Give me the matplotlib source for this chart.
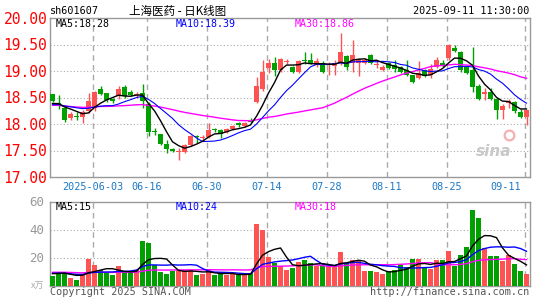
import numpy as np
import pandas as pd
import matplotlib
matplotlib.use("Agg")
import matplotlib.pyplot as plt

# daily bars, 2025-05-22 .. 2025-09-11 (80 trading days)
opens = [18.56, 18.40, 18.30, 18.12, 18.16, 18.13, 18.25, 18.30, 18.66, 18.58,
         18.47, 18.52, 18.70, 18.61, 18.54, 18.58, 18.38, 17.87, 17.81, 17.62,
         17.53, 17.47, 17.48, 17.61, 17.77, 17.74, 17.76, 17.91, 17.88, 17.85,
         17.90, 18.01, 17.97, 18.06, 18.42, 18.66, 19.05, 19.16, 19.01, 19.17,
         19.07, 18.99, 19.20, 19.21, 19.11, 19.16, 19.12, 19.10, 19.15, 19.28,
         19.15, 19.15, 19.16, 19.30, 19.12, 19.02, 19.15, 19.11, 19.07, 19.01,
         18.92, 18.86, 19.02, 18.92, 19.08, 19.16, 19.24, 19.43, 19.36, 19.08,
         19.02, 18.72, 18.57, 18.61, 18.48, 18.26, 18.39, 18.42, 18.23, 18.13]
highs = [18.57, 18.55, 18.32, 18.22, 18.22, 18.27, 18.59, 18.62, 18.72, 18.59,
         18.50, 18.72, 18.73, 18.64, 18.60, 18.76, 18.42, 17.93, 17.82, 17.70,
         17.55, 17.54, 17.62, 17.79, 17.79, 17.80, 18.01, 17.93, 17.90, 17.92,
         17.98, 18.03, 18.04, 18.11, 18.89, 19.21, 19.22, 19.26, 19.25, 19.22,
         19.10, 19.20, 19.35, 19.34, 19.25, 19.18, 19.17, 19.20, 19.71, 19.31,
         19.58, 19.25, 19.24, 19.33, 19.20, 19.11, 19.17, 19.20, 19.09, 19.20,
         18.93, 19.18, 19.04, 19.13, 19.27, 19.21, 19.51, 19.49, 19.37, 19.10,
         19.46, 18.75, 18.68, 18.68, 18.49, 18.37, 18.48, 18.44, 18.28, 18.27]
lows = [18.42, 18.28, 18.04, 18.08, 18.07, 18.02, 18.20, 18.24, 18.55, 18.42,
        18.40, 18.48, 18.50, 18.52, 18.50, 18.30, 17.77, 17.79, 17.60, 17.46,
        17.47, 17.32, 17.46, 17.59, 17.64, 17.70, 17.74, 17.85, 17.73, 17.83,
        17.88, 17.95, 17.95, 18.01, 18.40, 18.62, 18.96, 18.90, 18.99, 19.14,
        18.96, 18.97, 19.13, 19.13, 19.08, 18.96, 18.93, 18.92, 19.12, 19.02,
        18.99, 18.90, 19.13, 19.14, 19.06, 19.00, 19.03, 18.99, 18.97, 18.90,
        18.78, 18.84, 18.89, 18.87, 19.05, 19.08, 19.21, 19.36, 18.98, 18.95,
        18.61, 18.46, 18.46, 18.45, 18.09, 18.09, 18.31, 18.21, 18.11, 17.98]
closes = [18.44, 18.35, 18.08, 18.18, 18.14, 18.22, 18.43, 18.60, 18.57, 18.45,
          18.44, 18.66, 18.52, 18.55, 18.56, 18.44, 17.85, 17.84, 17.62, 17.52,
          17.49, 17.49, 17.60, 17.77, 17.75, 17.76, 17.89, 17.89, 17.82, 17.90,
          17.96, 17.99, 18.02, 18.04, 18.72, 18.99, 19.15, 19.01, 19.22, 19.19,
          18.99, 19.18, 19.18, 19.15, 19.19, 18.99, 19.14, 19.16, 19.35, 19.08,
          19.30, 19.22, 19.20, 19.16, 19.14, 19.07, 19.05, 19.03, 18.99, 18.92,
          18.80, 18.97, 18.91, 19.03, 19.21, 19.11, 19.49, 19.38, 19.01, 18.97,
          18.69, 18.48, 18.61, 18.47, 18.26, 18.34, 18.44, 18.24, 18.14, 18.26]
volumes = [6.5, 10.0, 10.0, 5.5, 4.0, 7.2, 18.7, 14.4, 10.8, 8.9,
           7.2, 13.7, 10.0, 8.9, 10.8, 31.7, 30.5, 14.4, 9.6, 8.4,
           10.3, 11.3, 10.8, 11.0, 7.2, 8.0, 12.0, 7.2, 8.4, 7.2,
           8.4, 7.7, 7.7, 8.9, 43.9, 40.0, 20.4, 16.0, 13.7, 11.3,
           12.7, 16.8, 18.0, 16.0, 13.7, 13.7, 13.7, 13.7, 24.0, 16.0,
           18.5, 18.0, 10.3, 10.3, 9.6, 7.9, 10.3, 11.3, 15.0, 13.5,
           18.7, 18.7, 12.7, 11.5, 18.0, 18.0, 24.5, 13.7, 21.6, 27.6,
           54.0, 48.0, 27.1, 20.9, 20.9, 17.5, 22.0, 15.5, 10.5, 8.0]
# the 29 sessions before the window, only needed for the moving averages
prior_closes = [18.45, 18.40, 18.50, 18.42, 18.38, 18.46, 18.35, 18.30, 18.41, 18.37,
                18.44, 18.39, 18.33, 18.28, 18.36, 18.30, 18.22, 18.18, 18.25, 18.20,
                18.30, 18.34, 18.36, 18.32, 18.38, 18.35, 18.40, 18.38, 18.36]
prior_volumes = [9.5, 10.2, 8.8, 9.0, 11.5, 10.1, 8.7, 9.9, 12.0, 10.4,
                 9.1, 8.6, 9.8, 10.7, 11.2, 9.4, 8.9, 10.0, 9.6, 8.5,
                 9.2, 10.8, 9.0, 8.4, 7.9, 9.3, 8.8, 9.5, 8.1]

tick_idx = [7, 16, 26, 36, 46, 56, 66, 79]
tick_labels = ["2025-06-03", "06-16", "06-30", "07-14", "07-28", "08-11", "08-25", "09-11"]

RED = "#ff5252"
GREEN = "#00a000"
GRID = "#aaaaaa"
W, H = 545, 300
MONO = "DejaVu Sans Mono"
CJK = ["Noto Sans CJK SC", "DejaVu Sans"]


def ma(prior, values, n):
    s = pd.Series(list(prior) + list(values)).rolling(n).mean()
    return s.values[len(prior):]


n = len(closes)
x = np.arange(n)
o, h, l, c = map(np.array, (opens, highs, lows, closes))
up = c >= o
cols = [RED if u else GREEN for u in up]

fig = plt.figure(figsize=(W / 100, H / 100), dpi=100)
fig.patch.set_facecolor("white")
ax = fig.add_axes([50 / W, 1 - 177 / H, 479.5 / W, 159 / H])
axv = fig.add_axes([50 / W, 1 - 285.5 / H, 479.5 / W, 84 / H])

x0, x1 = -0.42, 79.5
for a in (ax, axv):
    a.set_xlim(x0, x1)
    for sp in a.spines.values():
        sp.set_color("#999999")
        sp.set_linewidth(1)
    a.tick_params(length=0)
    a.set_xticks([])
    for t in tick_idx:
        a.axvline(t - 0.33, color=GRID, lw=1, ls=(0, (4, 3)), zorder=1)

# price panel
ax.set_ylim(17, 20)
for g in [17.5, 18, 18.5, 19, 19.5]:
    ax.axhline(g, color=GRID, lw=0.8, ls=(0, (1, 2)), zorder=1)
ax.set_yticks([17, 17.5, 18, 18.5, 19, 19.5, 20])
ax.set_yticklabels(["%.2f" % v for v in [17, 17.5, 18, 18.5, 19, 19.5, 20]],
                   color="#ff0000", family=MONO, fontsize=10.5)
ax.tick_params(axis="y", pad=2)

ax.vlines(x, l, h, colors=cols, lw=1, zorder=3)
body = np.maximum(np.abs(c - o), 0.012)
ax.bar(x, body, bottom=np.minimum(o, c), width=0.78, color=cols, lw=0, zorder=4)

ma5 = ma(prior_closes, closes, 5)
ma10 = ma(prior_closes, closes, 10)
ma30 = ma(prior_closes, closes, 30)
ax.plot(x, ma30, color="#ff00ff", lw=1, zorder=5)
ax.plot(x, ma10, color="#0000ff", lw=0.8, zorder=5)
ax.plot(x, ma5, color="black", lw=1, zorder=6)

for t, lab in zip(tick_idx, tick_labels):
    if t == tick_idx[-1]:
        ax.text(78.0, -0.061, lab, transform=ax.get_xaxis_transform(), ha="right",
                va="center", color="#1b78c8", family=MONO, fontsize=7.3)
    else:
        ax.text(t - 0.33, -0.061, lab, transform=ax.get_xaxis_transform(), ha="center",
                va="center", color="#1b78c8", family=MONO, fontsize=7.3)

ax.text(0.011, 0.962, "MA5:%.2f" % ma5[-1], transform=ax.transAxes, color="black",
        family=MONO, fontsize=7.2, va="center")
ax.text(0.261, 0.962, "MA10:%.2f" % ma10[-1], transform=ax.transAxes, color="#0000ff",
        family=MONO, fontsize=7.2, va="center")
ax.text(0.511, 0.962, "MA30:%.2f" % ma30[-1], transform=ax.transAxes, color="#ff00ff",
        family=MONO, fontsize=7.2, va="center")

# sina watermark
ax.plot([76.0], [17.80], marker="o", ms=7, mfc="none", mec="#f4b0b0", mew=1.6, zorder=2)
ax.text(0.962, 0.16, "sina", transform=ax.transAxes, color="#c8c8c8", fontsize=11,
        style="italic", fontweight="bold", ha="right", va="center", zorder=2)

# volume panel (unit: 10k lots)
axv.set_ylim(0, 60)
for g in [20, 40]:
    axv.axhline(g, color=GRID, lw=0.8, ls=(0, (1, 2)), zorder=1)
axv.set_yticks([20, 40, 60])
axv.set_yticklabels(["20", "40", "60"], color="#999999", family=MONO, fontsize=9)
axv.tick_params(axis="y", pad=4)
axv.bar(x, volumes, width=0.78, color=cols, lw=0, zorder=3)
vma5 = ma(prior_volumes, volumes, 5)
vma10 = ma(prior_volumes, volumes, 10)
vma30 = ma(prior_volumes, volumes, 30)
axv.plot(x, vma30, color="#ff00ff", lw=1, zorder=5)
axv.plot(x, vma10, color="#0000ff", lw=1, zorder=5)
axv.plot(x, vma5, color="black", lw=1, zorder=6)
axv.text(0.011, 0.93, "MA5:%d" % round(vma5[-1]), transform=axv.transAxes, color="black",
         family=MONO, fontsize=7.2, va="center")
axv.text(0.261, 0.93, "MA10:%d" % round(vma10[-1]), transform=axv.transAxes, color="#0000ff",
         family=MONO, fontsize=7.2, va="center")
axv.text(0.511, 0.93, "MA30:%d" % round(vma30[-1]), transform=axv.transAxes, color="#ff00ff",
         family=MONO, fontsize=7.2, va="center")

# header and footer
fig.text(50 / W, 1 - 11 / H, "sh601607", family=MONO, fontsize=7.3, va="center")
fig.text(178 / W, 1 - 11 / H, "上海医药 - 日K线图", family=CJK, fontsize=8.3,
         ha="center", va="center")
fig.text(529.5 / W, 1 - 11 / H, "2025-09-11 11:30:00", family=MONO, fontsize=7.3,
         ha="right", va="center")
fig.text(44 / W, 1 - 286 / H, "x万", family=CJK, fontsize=6.5, color="#aaaaaa",
         ha="right", va="center")
fig.text(50 / W, 1 - 292 / H, "Copyright 2025 SINA.COM", family=MONO, fontsize=7.3,
         color="#555555", va="center")
fig.text(529.5 / W, 1 - 292 / H, "http://finance.sina.com.cn", family=MONO, fontsize=7.3,
         color="#555555", ha="right", va="center")

fig.savefig("out.png", dpi=100)
